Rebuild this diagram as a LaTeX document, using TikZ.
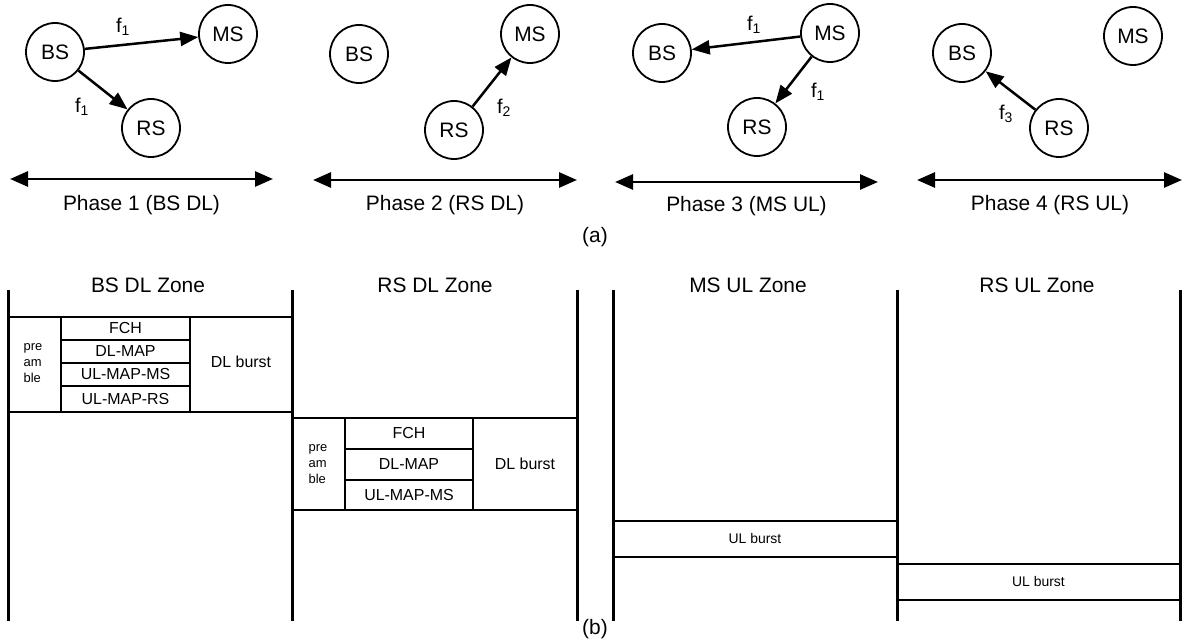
\documentclass[tikz,border=0pt]{standalone}
\usepackage{fontspec}
\setmainfont{Liberation Sans}
\usetikzlibrary{arrows.meta}
\begin{document}
\begin{tikzpicture}[x=1bp,y=-1bp,
  stn/.style={circle, draw, line width=1.8bp, minimum size=58bp, inner sep=0pt, font=\fontsize{21}{25}\selectfont},
  arr/.style={-{Triangle[length=18bp,width=14bp]}, line width=2.5bp},
  darr/.style={{Triangle[length=18bp,width=15bp]}-{Triangle[length=18bp,width=15bp]}, line width=2.8bp},
  lbl/.style={font=\fontsize{20}{24}\selectfont, inner sep=0pt},
  phase/.style={font=\fontsize{21}{25}\selectfont, inner sep=0pt},
  zonet/.style={font=\fontsize{21}{25}\selectfont, inner sep=0pt, anchor=base},
  zoneline/.style={line width=3bp},
  cell/.style={draw, line width=2bp},
  ctext/.style={font=\fontsize{16}{19}\selectfont, inner sep=0pt},
  ptext/.style={font=\fontsize{13}{16}\selectfont, inner sep=0pt, align=left},
  utext/.style={font=\fontsize{14}{17}\selectfont, inner sep=0pt}
]
\useasboundingbox (0,0) rectangle (1184,641);

% ---------- (a) ----------
% Phase 1
\node[stn] (bs1) at (55,52) {BS};
\node[stn] (ms1) at (228,34) {MS};
\node[stn] (rs1) at (151,128) {RS};
\draw[arr] (bs1) -- (ms1);
\draw[arr] (bs1) -- (rs1);
\node[lbl] (l11) at (123,27) {f\textsubscript{1}};
\node[lbl] (l12) at (82,107) {f\textsubscript{1}};
\coordinate (p1a) at (10,179);
\coordinate (p1b) at (273,179);
\draw[darr] (p1a) -- (p1b);
\node[phase] (t1) at (141.5,205) {Phase 1 (BS DL)};

% Phase 2
\node[stn] (bs2) at (359,54) {BS};
\node[stn] (ms2) at (530,34) {MS};
\node[stn] (rs2) at (454,130) {RS};
\draw[arr] (rs2) -- (ms2);
\node[lbl] (l21) at (504,108) {f\textsubscript{2}};
\coordinate (p2a) at (313,180);
\coordinate (p2b) at (577,180);
\draw[darr] (p2a) -- (p2b);
\node[phase] (t2) at (445,205) {Phase 2 (RS DL)};

% Phase 3
\node[stn] (bs3) at (662,53) {BS};
\node[stn] (ms3) at (830,33) {MS};
\node[stn] (rs3) at (757,127) {RS};
\draw[arr] (ms3) -- (bs3);
\draw[arr] (ms3) -- (rs3);
\node[lbl] (l31) at (754,25) {f\textsubscript{1}};
\node[lbl] (l32) at (818,92) {f\textsubscript{1}};
\coordinate (p3a) at (615,182);
\coordinate (p3b) at (878,182);
\draw[darr] (p3a) -- (p3b);
\node[phase] (t3) at (746.5,206) {Phase 3 (MS UL)};

% Phase 4
\node[stn] (bs4) at (962,53) {BS};
\node[stn] (ms4) at (1133,36) {MS};
\node[stn] (rs4) at (1059,128) {RS};
\draw[arr] (rs4) -- (bs4);
\node[lbl] (l41) at (1006,114) {f\textsubscript{3}};
\coordinate (p4a) at (917,180);
\coordinate (p4b) at (1182,180);
\draw[darr] (p4a) -- (p4b);
\node[phase] (t4) at (1050,205) {Phase 4 (RS UL)};

\node[phase] (capa) at (595,237) {(a)};

% ---------- (b) ----------
\foreach \xx/\nm in {8/v1,292/v2,577/v3,613/v4,897/v5,1180/v6}{
  \coordinate (\nm t) at (\xx,290);
  \coordinate (\nm b) at (\xx,621);
  \draw[zoneline] (\nm t) -- (\nm b);
}
\node[zonet] (z1) at (148,292.5) {BS DL Zone};
\node[zonet] (z2) at (435,292.5) {RS DL Zone};
\node[zonet] (z3) at (748,292.5) {MS UL Zone};
\node[zonet] (z4) at (1037,292.5) {RS UL Zone};

% BS DL table
\draw[cell] (8,317) rectangle (61,412);
\draw[cell] (61,317) rectangle (190,340);
\draw[cell] (61,340) rectangle (190,363);
\draw[cell] (61,363) rectangle (190,386);
\draw[cell] (61,386) rectangle (190,412);
\draw[cell] (190,317) rectangle (292,412);
\node[ptext] (bpre) at (33,363) {pre\\am\\ble};
\node[ctext] (bfch) at (125.5,328.5) {FCH};
\node[ctext] (bdlm) at (125.5,351.5) {DL-MAP};
\node[ctext] (bulm) at (125.5,374.5) {UL-MAP-MS};
\node[ctext] (bulr) at (125.5,399) {UL-MAP-RS};
\node[ctext] (bdlb) at (241,362) {DL burst};

% RS DL table
\draw[cell] (292,418) rectangle (345,510);
\draw[cell] (345,418) rectangle (473,449);
\draw[cell] (345,449) rectangle (473,480);
\draw[cell] (345,480) rectangle (473,510);
\draw[cell] (473,418) rectangle (577,510);
\node[ptext] (rpre) at (318,464) {pre\\am\\ble};
\node[ctext] (rfch) at (409,433.5) {FCH};
\node[ctext] (rdlm) at (409,464.5) {DL-MAP};
\node[ctext] (rulm) at (409,495) {UL-MAP-MS};
\node[ctext] (rdlb) at (525,464) {DL burst};

% UL bursts
\draw[cell] (613,521) rectangle (897,557);
\node[utext] (mulb) at (755,539) {UL burst};
\draw[cell] (897,564) rectangle (1180,600);
\node[utext] (rulb) at (1038.5,582) {UL burst};

\node[phase] (capb) at (595,629) {(b)};
\end{tikzpicture}
\end{document}
